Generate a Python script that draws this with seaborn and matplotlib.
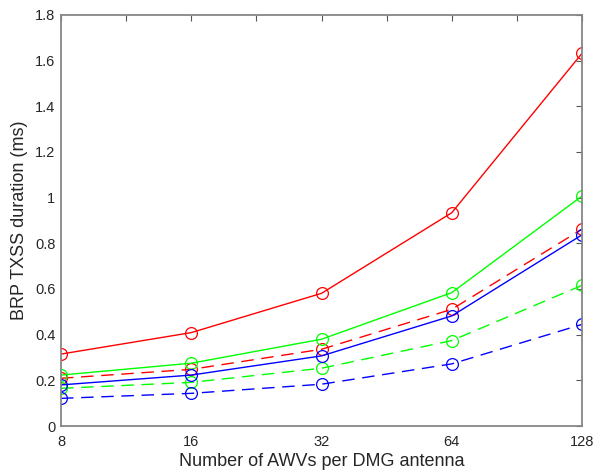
import numpy as np
import pandas as pd
import matplotlib
matplotlib.use("Agg")
import matplotlib.pyplot as plt
import seaborn as sns

awvs = [8, 16, 32, 64, 128]
red_solid = [0.315, 0.409, 0.581, 0.934, 1.632]
red_dashed = [0.209, 0.248, 0.336, 0.511, 0.862]
green_solid = [0.223, 0.275, 0.380, 0.584, 1.007]
green_dashed = [0.165, 0.191, 0.253, 0.374, 0.616]
blue_solid = [0.180, 0.223, 0.307, 0.482, 0.837]
blue_dashed = [0.121, 0.143, 0.183, 0.272, 0.445]
x_ticklabels = ["8", "16", "32", "64", "128"]

series = {
    "red_solid": red_solid, "red_dashed": red_dashed,
    "green_solid": green_solid, "green_dashed": green_dashed,
    "blue_solid": blue_solid, "blue_dashed": blue_dashed,
}
rows = []
for name, vals in series.items():
    for x, y in zip(awvs, vals):
        rows.append({"x": x, "y": y, "series": name})
df = pd.DataFrame(rows)

sns.set_style("white")
plt.rcParams["font.family"] = ["Liberation Sans", "DejaVu Sans"]

fig = plt.figure(figsize=(5.93, 4.72), dpi=100)
ax = fig.add_axes([61/593, 46/472, (582-61)/593, (426-15)/472])

palette = {"red_solid": "#ff0000", "red_dashed": "#ff0000",
           "green_solid": "#00ff00", "green_dashed": "#00ff00",
           "blue_solid": "#0000ff", "blue_dashed": "#0000ff"}
dashes = {k: ("" if k.endswith("solid") else (9, 5.5)) for k in series}

sns.lineplot(data=df, x="x", y="y", hue="series", style="series",
             palette=palette, dashes=dashes, markers={k: "o" for k in series},
             markersize=8.5, markerfacecolor="none", linewidth=1.0,
             legend=False, ax=ax)
for line in ax.get_lines():
    line.set_markeredgecolor(line.get_color())
    line.set_markerfacecolor("none")
    line.set_markeredgewidth(0.9)

ax.set_xscale("log", base=2)
ax.set_xlim(8, 128)
ax.set_ylim(0, 1.8)
ax.set_xticks(awvs)
ax.set_xticklabels(x_ticklabels)
ax.set_xticks([8 * 2 ** (k + 0.5) for k in range(4)], minor=True)
ax.set_yticks(np.arange(0, 1.81, 0.2))
ax.set_yticklabels(["0", "0.2", "0.4", "0.6", "0.8", "1", "1.2", "1.4", "1.6", "1.8"])

for s in ax.spines.values():
    s.set_color("#868686")
    s.set_linewidth(1.3)
    s.set_visible(True)
ax.tick_params(which="both", direction="in", top=True, right=True,
               color="#555555", length=4, width=0.8, labelsize=10.5,
               labelcolor="#262626")
ax.tick_params(which="minor", labelbottom=False)
ax.tick_params(axis="x", pad=6.5)
ax.tick_params(axis="y", pad=4)
ax.set_xlabel("Number of AWVs per DMG antenna", fontsize=13, color="#262626", labelpad=3)
ax.set_ylabel("BRP TXSS duration (ms)", fontsize=13, color="#262626", labelpad=5)

fig.savefig("out.png", dpi=100)
